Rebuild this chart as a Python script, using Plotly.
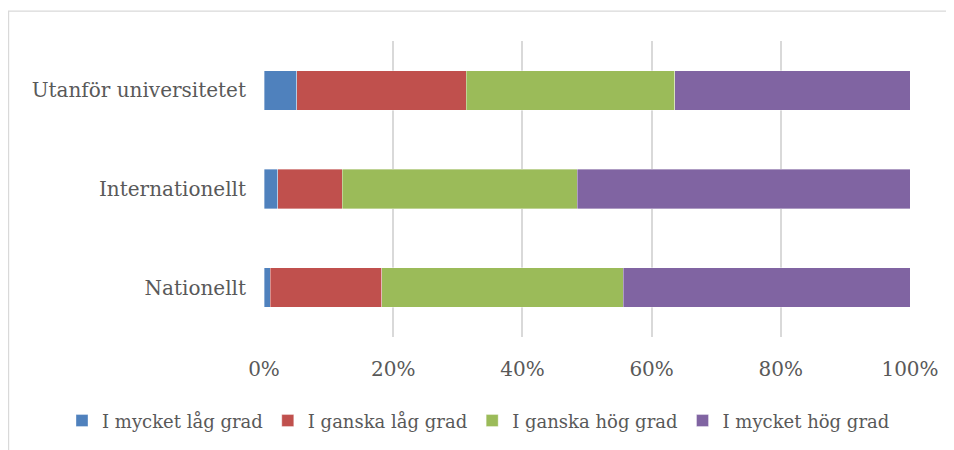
import plotly.graph_objects as go

categories = ["Nationellt", "Internationellt", "Utanför universitetet"]
series_names = ["I mycket låg grad", "I ganska låg grad", "I ganska hög grad", "I mycket hög grad"]
very_low = [1.0, 2.1, 5.1]
rather_low = [17.2, 10.0, 26.2]
rather_high = [37.4, 36.4, 32.3]
very_high = [44.4, 51.5, 36.4]
colors = ["#4F81BD", "#C0504D", "#9BBB59", "#8064A2"]
tick_vals = [0, 20, 40, 60, 80, 100]
tick_text = ["0%", "20%", "40%", "60%", "80%", "100%"]

FONT = "DejaVu Serif"
FS = 20
W, H = 954, 450
OFF = 8  # page offset
ml, mr, mt = 264 - OFF, 44 + OFF, 41 - OFF
mb = H - (337.5 - OFF)

fig = go.Figure()
for name, vals, col in zip(series_names, [very_low, rather_low, rather_high, very_high], colors):
    fig.add_trace(go.Bar(
        y=categories, x=vals, name=name, orientation="h",
        marker=dict(color=col, line=dict(color="rgba(255,255,255,0.6)", width=0.6)),
    ))

pw = W - ml - mr
ph = H - mt - mb
fig.add_shape(type="rect", xref="paper", yref="paper",
              x0=(0.6 - ml) / pw, x1=(W + 10 - ml) / pw,
              y0=(H - mb - (H + 10)) / ph, y1=(H - mb - (11 - OFF)) / ph,
              line=dict(color="#D9D9D9", width=1.2), fillcolor="rgba(0,0,0,0)", layer="below")

fig.update_layout(
    width=W, height=H,
    barmode="stack", bargap=0.6,
    margin=dict(l=ml, r=mr, t=mt, b=mb),
    plot_bgcolor="white", paper_bgcolor="white",
    font=dict(family=FONT, size=FS, color="#595959"),
    xaxis=dict(range=[0, 100], tickvals=tick_vals, ticktext=tick_text,
               showgrid=True, gridcolor="#D9D9D9", gridwidth=1.5,
               zeroline=False, showline=False,
               ticks="outside", ticklen=14, tickcolor="rgba(0,0,0,0)",
               tickfont=dict(family=FONT, size=FS, color="#595959")),
    yaxis=dict(showgrid=False, zeroline=False, showline=False,
               ticks="outside", ticklen=13, tickcolor="rgba(0,0,0,0)",
               tickfont=dict(family=FONT, size=FS, color="#595959")),
    legend=dict(orientation="h", x=(62 - OFF - ml) / pw, xanchor="left",
                y=-84 / ph, yanchor="middle",
                font=dict(family=FONT, size=18, color="#595959"),
                itemwidth=30, tracegroupgap=0, traceorder="normal",
                bgcolor="rgba(0,0,0,0)"),
    showlegend=True,
)

fig.write_html("out.html")
